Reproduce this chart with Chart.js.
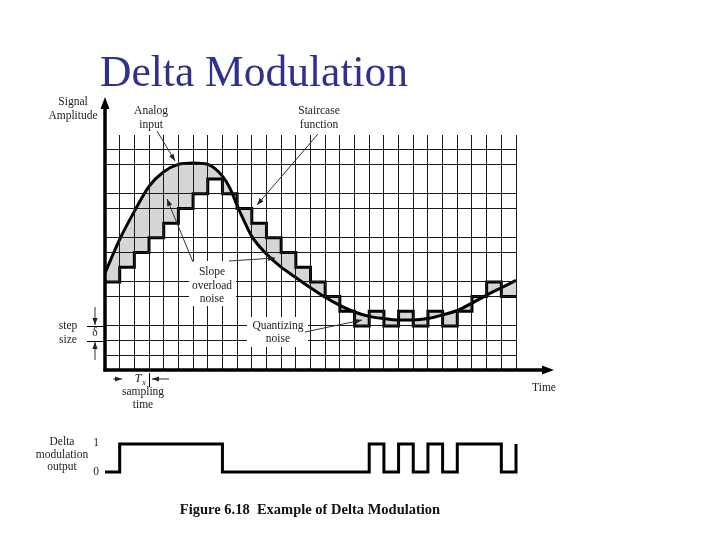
<!DOCTYPE html>
<html lang="en">
<head>
    <meta charset="UTF-8">
    <title>Delta Modulation</title>
    <script src="https://cdn.jsdelivr.net/npm/chart.js"></script>
    <style>
        html, body { margin: 0; padding: 0; background: #fff; }
        body { width: 720px; height: 540px; position: relative; overflow: hidden; }
        canvas { position: absolute; left: 0; top: 0; }
    </style>
</head>
<body>
    <canvas id="main" width="720" height="540"></canvas>
    <canvas id="out" width="720" height="540"></canvas>

    <script>
        // sample instants (multiples of Ts)
        const sampleT = [0, 1, 2, 3, 4, 5, 6, 7, 8, 9, 10, 11, 12, 13, 14, 15, 16, 17, 18, 19, 20, 21, 22, 23, 24, 25, 26, 27, 28];
        // staircase level (in steps of delta) held from each sample to the next
        const staircaseLevel = [6, 7, 8, 9, 10, 11, 12, 13, 12, 11, 10, 9, 8, 7, 6, 5, 4, 3, 4, 3, 4, 3, 4, 3, 4, 5, 6, 5, 5];
        // analog input
        const analogT = [0, 1, 2, 3, 4, 5, 6, 7, 8, 8.5, 9, 9.5, 10, 11, 12, 13, 14, 15, 16, 17, 18, 19, 20, 21, 22, 23, 24, 25, 26, 27, 28];
        const analogLevel = [6.6, 8.9, 10.8, 12.5, 13.5, 14.0, 14.1, 14.0, 13.2, 12.4, 11.2, 10.1, 9.1, 7.9, 7.0, 6.3, 5.6, 4.95, 4.4, 3.95, 3.65, 3.5, 3.4, 3.4, 3.5, 3.75, 4.05, 4.55, 5.1, 5.6, 6.1];
        // delta modulation output bits
        const dmBit = [0, 1, 1, 1, 1, 1, 1, 1, 0, 0, 0, 0, 0, 0, 0, 0, 0, 0, 1, 0, 1, 0, 1, 0, 1, 1, 1, 0, 1];

        // grid rows that are not drawn in the original figure
        const hiddenRows = [0, 4, 7, 10, 13, 16];

        const toPoints = (xs, ys) => xs.map((x, i) => ({ x: x, y: ys[i] }));

        const SERIF = '"Liberation Serif", "Times New Roman", serif';
        const INK = '#222';

        function arrowHead(ctx, x1, y1, x2, y2, len, half) {
            const a = Math.atan2(y2 - y1, x2 - x1);
            const c = Math.cos(a), s = Math.sin(a);
            ctx.beginPath();
            ctx.moveTo(x2, y2);
            ctx.lineTo(x2 - len * c + half * s, y2 - len * s - half * c);
            ctx.lineTo(x2 - len * c - half * s, y2 - len * s + half * c);
            ctx.closePath();
            ctx.fill();
        }

        function arrow(ctx, x1, y1, x2, y2) {
            ctx.beginPath();
            ctx.moveTo(x1, y1);
            ctx.lineTo(x2, y2);
            ctx.stroke();
            arrowHead(ctx, x1, y1, x2, y2, 7, 2.6);
        }

        // labels, arrows and axes drawn over the chart
        const notes = {
            id: 'notes',
            afterDraw(chart, args, opts) {
                const ctx = chart.ctx;
                const xs = chart.scales.x, ys = chart.scales.y;
                ctx.save();
                ctx.fillStyle = '#fff';
                (opts.boxes || []).forEach(b => ctx.fillRect(b[0], b[1], b[2], b[3]));

                ctx.strokeStyle = '#000';
                ctx.fillStyle = '#000';

                if (opts.axes) {
                    const x0 = xs.getPixelForValue(0), y0 = ys.getPixelForValue(0);
                    ctx.lineWidth = 3.5;
                    ctx.beginPath();
                    ctx.moveTo(x0, y0 + 1.5);
                    ctx.lineTo(x0, 106);
                    ctx.stroke();
                    arrowHead(ctx, x0, 120, x0, 97, 12, 4.5);
                    ctx.beginPath();
                    ctx.moveTo(x0 - 1.5, y0);
                    ctx.lineTo(545, y0);
                    ctx.stroke();
                    arrowHead(ctx, 500, y0, 554, y0, 12, 4.5);

                    // step size ticks
                    ctx.lineWidth = 1;
                    [2, 3].forEach(v => {
                        const y = Math.round(ys.getPixelForValue(v)) + 0.5;
                        ctx.beginPath();
                        ctx.moveTo(87, y);
                        ctx.lineTo(x0, y);
                        ctx.stroke();
                    });
                    // sampling time marker
                    ctx.beginPath();
                    ctx.moveTo(149.5, 373);
                    ctx.lineTo(149.5, 387);
                    ctx.stroke();
                }

                ctx.strokeStyle = '#333';
                ctx.fillStyle = '#222';
                ctx.lineWidth = 1;
                (opts.arrows || []).forEach(a => arrow(ctx, a[0], a[1], a[2], a[3]));

                ctx.fillStyle = INK;
                ctx.textAlign = 'center';
                ctx.textBaseline = 'middle';
                ctx.font = '11.5px ' + SERIF;
                (opts.labels || []).forEach(l => ctx.fillText(l[0], l[1], l[2]));

                if (opts.axes) {
                    ctx.font = 'italic 12px ' + SERIF;
                    ctx.fillText('T', 138, 379);
                    ctx.font = 'italic 8px ' + SERIF;
                    ctx.fillText('x', 144, 383);

                    ctx.textAlign = 'left';
                    ctx.textBaseline = 'alphabetic';
                    ctx.fillStyle = '#30308f';
                    ctx.font = '43.5px ' + SERIF;
                    ctx.fillText('Delta Modulation', 100, 86);

                    ctx.fillStyle = '#111';
                    ctx.font = 'bold 14.5px ' + SERIF;
                    ctx.textAlign = 'center';
                    ctx.fillText('Figure 6.18  Example of Delta Modulation', 310, 514);
                }
                ctx.restore();
            }
        };

        new Chart(document.getElementById('main'), {
            type: 'line',
            data: {
                datasets: [{
                    label: 'Analog input',
                    data: toPoints(analogT, analogLevel),
                    borderColor: '#000',
                    borderWidth: 3,
                    pointRadius: 0,
                    cubicInterpolationMode: 'monotone',
                    fill: false
                }, {
                    label: 'Staircase function',
                    data: toPoints(sampleT, staircaseLevel),
                    borderColor: '#000',
                    borderWidth: 3,
                    pointRadius: 0,
                    stepped: true,
                    fill: { target: 0 },
                    backgroundColor: '#d6d6d6'
                }]
            },
            options: {
                responsive: false,
                animation: false,
                events: [],
                layout: { padding: { left: 105, right: 204, top: 135, bottom: 170 } },
                plugins: {
                    legend: { display: false },
                    tooltip: { enabled: false },
                    notes: {
                        axes: true,
                        boxes: [[189, 261, 47, 45], [247, 317, 61, 30]],
                        arrows: [
                            [157, 131, 175, 161],
                            [318, 134, 257, 205],
                            [193, 262, 167, 199],
                            [229, 261, 275, 258],
                            [305, 332, 362, 320],
                            [95, 307, 95, 325],
                            [95, 360, 95, 342],
                            [113, 379, 122, 379],
                            [169, 379, 152, 379]
                        ],
                        labels: [
                            ['Signal', 73, 102], ['Amplitude', 73, 116],
                            ['Analog', 151, 111], ['input', 151, 125],
                            ['Staircase', 319, 111], ['function', 319, 125],
                            ['Slope', 212, 272], ['overload', 212, 286], ['noise', 212, 299],
                            ['Quantizing', 278, 326], ['noise', 278, 339],
                            ['step', 68, 326], ['size', 68, 340], ['\u03b4', 95, 333],
                            ['sampling', 143, 392], ['time', 143, 405],
                            ['Time', 544, 388],
                            ['Delta', 62, 442], ['modulation', 62, 455], ['output', 62, 467],
                            ['1', 96, 443], ['0', 96, 472]
                        ]
                    }
                },
                scales: {
                    x: {
                        type: 'linear',
                        min: 0,
                        max: 28,
                        ticks: { display: false, stepSize: 1 },
                        border: { display: false },
                        grid: {
                            z: 1,
                            drawTicks: false,
                            lineWidth: 1,
                            color: c => c.tick.value === 0 ? 'rgba(0,0,0,0)' : '#1a1a1a'
                        }
                    },
                    y: {
                        min: 0,
                        max: 16,
                        ticks: { display: false, stepSize: 1 },
                        border: { display: false },
                        grid: {
                            z: 1,
                            drawTicks: false,
                            lineWidth: 1,
                            color: c => hiddenRows.includes(c.tick.value) ? 'rgba(0,0,0,0)' : '#1a1a1a'
                        }
                    }
                }
            },
            plugins: [notes]
        });

        new Chart(document.getElementById('out'), {
            type: 'line',
            data: {
                datasets: [{
                    label: 'Delta modulation output',
                    data: toPoints(sampleT, dmBit),
                    borderColor: '#000',
                    borderWidth: 3,
                    pointRadius: 0,
                    stepped: true,
                    fill: false,
                    clip: false
                }]
            },
            options: {
                responsive: false,
                animation: false,
                events: [],
                layout: { padding: { left: 105, right: 204, top: 444, bottom: 68 } },
                plugins: { legend: { display: false }, tooltip: { enabled: false } },
                scales: {
                    x: { type: 'linear', min: 0, max: 28, display: false },
                    y: { min: 0, max: 1, display: false }
                }
            }
        });
    </script>
</body>
</html>
